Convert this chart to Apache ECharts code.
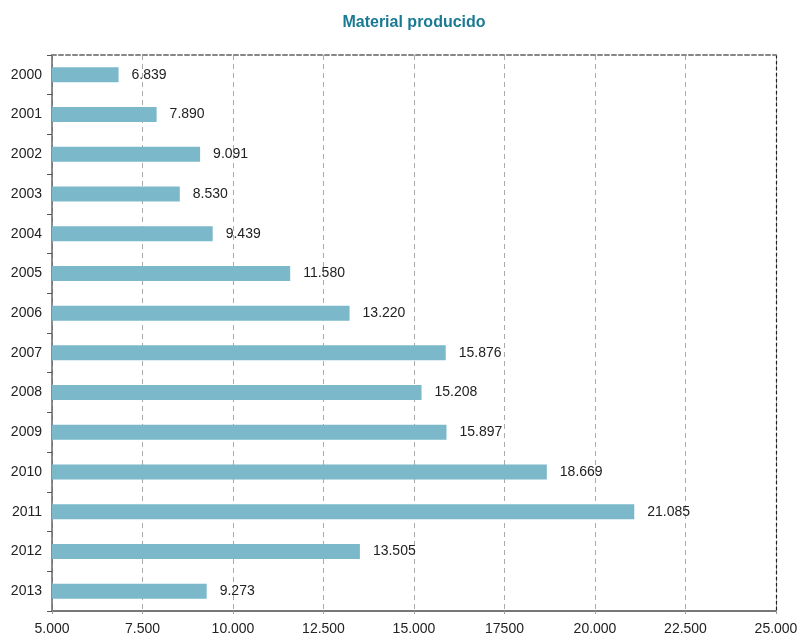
<!DOCTYPE html>
<html>
<head>
<meta charset="utf-8">
<script src="https://cdn.jsdelivr.net/npm/echarts@6/dist/echarts.min.js"></script>
<style>html,body{margin:0;padding:0;background:#fff;}#c{width:803px;height:637px;}</style>
</head>
<body>
<div id="c"></div>
<script>
const titleText = "Material producido";
const years = ["2000","2001","2002","2003","2004","2005","2006","2007","2008","2009","2010","2011","2012","2013"];
const produced = [6839, 7890, 9091, 8530, 9439, 11580, 13220, 15876, 15208, 15897, 18669, 21085, 13505, 9273];
const xTickValues = [5000, 7500, 10000, 12500, 15000, 17500, 20000, 22500, 25000];
const xTickLabels = ["5.000","7.500","10.000","12.500","15.000","17500","20.000","22.500","25.000"];

function fmt(v){
  const s = String(Math.round(v));
  return s.replace(/\B(?=(\d{3})+(?!\d))/g, ".");
}
const font = '"Liberation Sans", Arial, Helvetica, sans-serif';
const chart = echarts.init(document.getElementById('c'));
chart.setOption({
  animation: false,
  backgroundColor: '#fff',
  title: {
    text: titleText, left: 409, top: 10, textAlign: 'center',
    textStyle: { color: '#1b7a93', fontSize: 16, fontWeight: 'bold', fontFamily: font }
  },
  grid: { left: 52, right: 27, top: 55, bottom: 26, containLabel: false },
  xAxis: [{
    type: 'value', min: 5000, max: 25000, interval: 2500, position: 'bottom',
    axisLine: { show: true, lineStyle: { color: '#777', width: 2 } },
    axisTick: { show: true, length: 3, lineStyle: { color: '#999', type: 'dashed' } },
    axisLabel: {
      color: '#222', fontSize: 14, fontFamily: font, margin: 11,
      formatter: v => { const i = xTickValues.indexOf(v); return i >= 0 ? xTickLabels[i] : ''; }
    },
    splitLine: { show: true, lineStyle: { color: '#aaa', type: [5, 4], width: 1 } }
  }, {
    type: 'value', min: 5000, max: 25000, interval: 2500, position: 'top',
    axisLine: { show: true, lineStyle: { color: '#888', width: 2, type: [4, 3] } },
    axisTick: { show: false }, axisLabel: { show: false }, splitLine: { show: false }
  }],
  yAxis: [{
    type: 'category', data: years, inverse: true, position: 'left',
    axisLine: { show: true, lineStyle: { color: '#666', width: 1.5 } },
    axisTick: { show: true, length: 5, lineStyle: { color: '#555' } },
    axisLabel: { color: '#222', fontSize: 14, fontFamily: font, margin: 10 }
  }, {
    type: 'category', data: years, inverse: true, position: 'right',
    axisLine: { show: true, lineStyle: { color: '#222', width: 1.2, type: [3, 3] } },
    axisTick: { show: false }, axisLabel: { show: false }
  }],
  series: [{
    type: 'bar', data: produced, barWidth: 15, xAxisIndex: 0, yAxisIndex: 0,
    itemStyle: { color: '#7ab8ca' },
    label: {
      show: true, position: 'right', distance: 13, color: '#222', fontSize: 14, fontFamily: font,
      formatter: p => fmt(p.value)
    }
  }]
});
</script>
</body>
</html>
